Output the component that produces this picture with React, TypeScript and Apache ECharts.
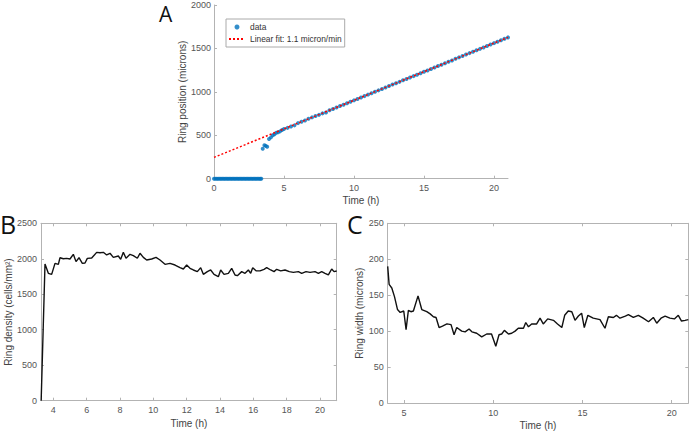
import React, { useEffect, useRef } from "react";
import * as echarts from "echarts";

// Panel A: ring position (data points) and linear fit
const aTime = [0, 0.1, 0.2, 0.3, 0.4, 0.5, 0.6, 0.7, 0.8, 0.9, 1.0, 1.1, 1.2, 1.3, 1.4, 1.5, 1.6, 1.7, 1.8, 1.9,
  2.0, 2.1, 2.2, 2.3, 2.4, 2.5, 2.6, 2.7, 2.8, 2.9, 3.0, 3.1, 3.2, 3.3, 3.38,
  3.48, 3.6, 3.7, 3.8, 3.93, 4.07, 4.2, 4.32, 4.45, 4.58, 4.72, 4.86,
  5.0, 5.25, 5.5, 5.75, 6.0, 6.25, 6.5, 6.75, 7.0, 7.25, 7.5, 7.75, 8.0, 8.25, 8.5, 8.75,
  9.0, 9.25, 9.5, 9.75, 10.0, 10.25, 10.5, 10.75, 11.0, 11.25, 11.5, 11.75, 12.0, 12.25, 12.5, 12.75,
  13.0, 13.25, 13.5, 13.75, 14.0, 14.25, 14.5, 14.75, 15.0, 15.25, 15.5, 15.75, 16.0, 16.25, 16.5, 16.75,
  17.0, 17.25, 17.5, 17.75, 18.0, 18.25, 18.5, 18.75, 19.0, 19.25, 19.5, 19.75, 20.0, 20.25, 20.5, 20.75, 21.0];
const aPosition = [0, 0, 0, 0, 0, 0, 0, 0, 0, 0, 0, 0, 0, 0, 0, 0, 0, 0, 0, 0,
  0, 0, 0, 0, 0, 0, 0, 0, 0, 0, 0, 0, 0, 0, 0,
  345, 385, 378, 368, 457, 476, 500, 512, 528, 536, 545, 560,
  572, 585, 600, 614, 640, 655, 670, 690, 706, 722, 735, 752, 762, 787, 803, 820,
  836, 852, 868, 886, 902, 918, 935, 951, 968, 985, 1000, 1017, 1034, 1050, 1068, 1084,
  1099, 1115, 1134, 1148, 1166, 1181, 1197, 1214, 1232, 1247, 1264, 1280, 1297, 1313, 1330, 1347,
  1362, 1380, 1397, 1413, 1430, 1446, 1462, 1479, 1495, 1511, 1527, 1545, 1561, 1577, 1594, 1611, 1627];
const fitTime = [0, 21];
const fitPosition = [245, 1627];

// Panel B: ring density
const bTime = [3.27, 3.5, 3.7, 3.9, 4.1, 4.3, 4.4, 4.6, 4.8, 5.0, 5.2, 5.36, 5.54, 5.74, 5.9, 6.04, 6.3, 6.6, 6.8, 7.0,
  7.2, 7.4, 7.6, 7.9, 8.04, 8.2, 8.36, 8.6, 8.8, 9.04, 9.2, 9.4, 9.6, 9.9, 10.16, 10.4, 10.7, 11.0, 11.3, 11.6,
  11.8, 12.0, 12.2, 12.4, 12.64, 12.84, 13.0, 13.24, 13.44, 13.64, 13.9, 14.04, 14.24, 14.5, 14.7, 14.9, 15.04, 15.3, 15.5, 15.7,
  15.84, 15.96, 16.16, 16.4, 16.64, 16.8, 17.04, 17.24, 17.4, 17.64, 17.9, 18.16, 18.4, 18.7, 18.9, 19.16, 19.4, 19.7, 19.9, 20.1,
  20.3, 20.5, 20.7, 20.84, 21.0];
const bDensity = [0, 1925, 1795, 1780, 1935, 1920, 2015, 2000, 2005, 1997, 2063, 1960, 2015, 1935, 1940, 2006, 2010, 2090, 2085, 2091,
  2054, 2077, 2020, 2039, 1992, 2091, 2007, 2063, 2045, 2007, 2077, 2020, 1983, 1997, 2020, 1983, 1922, 1936, 1912, 1875,
  1856, 1912, 1866, 1842, 1819, 1875, 1781, 1819, 1842, 1781, 1748, 1842, 1781, 1795, 1865, 1772, 1762, 1819, 1795, 1842,
  1795, 1875, 1830, 1830, 1852, 1875, 1842, 1819, 1852, 1830, 1842, 1819, 1809, 1819, 1795, 1819, 1809, 1819, 1795, 1819,
  1795, 1772, 1856, 1819, 1828];

// Panel C: ring width
const cTime = [4.08, 4.16, 4.31, 4.46, 4.63, 4.78, 4.98, 5.11, 5.24, 5.38, 5.52, 5.78, 5.99, 6.27, 6.46, 6.64, 6.79, 6.96, 7.15, 7.4,
  7.63, 7.8, 7.95, 8.23, 8.42, 8.64, 8.8, 9.07, 9.35, 9.63, 9.9, 10.14, 10.32, 10.47, 10.62, 10.85, 11.03, 11.22, 11.4, 11.69,
  11.82, 11.97, 12.15, 12.43, 12.62, 12.8, 13.05, 13.37, 13.6, 13.84, 14.0, 14.2, 14.4, 14.58, 14.77, 14.95, 15.1, 15.3, 15.6, 15.98,
  16.26, 16.45, 16.73, 16.9, 17.1, 17.4, 17.57, 17.85, 18.13, 18.4, 18.7, 18.97, 19.16, 19.4, 19.63, 19.9, 20.15, 20.37, 20.55, 20.75, 20.93];
const cWidth = [190, 165, 160, 148, 130, 126, 128, 102, 129, 127, 128, 149, 130, 127, 124, 120, 119, 105, 107, 110,
  109, 95, 105, 100, 99, 103, 99, 97, 92, 96, 96, 79, 95, 96, 101, 96, 97, 100, 104, 104,
  112, 106, 110, 110, 118, 110, 117, 115, 110, 105, 122, 128, 127, 115, 121, 125, 105, 122, 118, 116,
  104, 120, 119, 122, 118, 121, 123, 119, 122, 118, 113, 119, 111, 118, 121, 118, 117, 122, 114, 115, 116];

const bTicks = [4, 6, 8, 10, 12, 14, 16, 18, 20];
const cTicks = [5, 10, 15, 20];

const FONT = "'Liberation Sans', Arial, sans-serif";
const AXIS_COLOR = "#b3b3b3";
const LABEL_COLOR = "#555";
const NAME_COLOR = "#444";

const zip = (xs: number[], ys: number[]) => xs.map((x, i) => [x, ys[i]]);
const plain = (v: number) => String(v);

function baseAxis(extra: any) {
  return {
    type: "value",
    axisLine: { show: true, onZero: false, lineStyle: { color: AXIS_COLOR, width: 1 } },
    axisTick: { show: true, inside: true, length: 3, lineStyle: { color: AXIS_COLOR } },
    splitLine: { show: false },
    nameTextStyle: { color: NAME_COLOR, fontSize: 10, fontFamily: FONT },
    nameLocation: "middle",
    ...extra,
  };
}

function boxAxis(gridIndex: number, position: string, min: number, max: number, ticks: number[] | null, interval?: number) {
  const a: any = {
    type: "value",
    gridIndex,
    position,
    min,
    max,
    axisLine: { show: true, onZero: false, lineStyle: { color: AXIS_COLOR, width: 1 } },
    axisTick: { show: true, inside: true, length: 3, lineStyle: { color: AXIS_COLOR } },
    axisLabel: { show: false },
    splitLine: { show: false },
  };
  if (ticks) {
    a.axisTick.customValues = ticks;
  } else if (interval) {
    a.interval = interval;
  }
  return a;
}

export default function App() {
  const ref = useRef<HTMLDivElement>(null);
  useEffect(() => {
    if (!ref.current) return;
    const chart = echarts.init(ref.current, null, { renderer: "svg" });
    const label = (extra: any) => ({ color: LABEL_COLOR, fontSize: 9, fontFamily: FONT, formatter: plain, ...extra });
    const option: any = {
      animation: false,
      backgroundColor: "#ffffff",
      textStyle: { fontFamily: FONT },
      grid: [
        { left: 214, top: 5, width: 294, height: 173.7 },
        { left: 41, top: 223.3, width: 295.7, height: 177.4 },
        { left: 387.7, top: 223.3, width: 300.6, height: 180 },
      ],
      legend: {
        left: 226,
        top: 19,
        orient: "vertical",
        data: [
          { name: "data", icon: "circle", itemStyle: { color: "#0072BD" } },
          { name: "Linear fit: 1.1 micron/min", itemStyle: { opacity: 0 } },
        ],
        itemWidth: 16,
        itemHeight: 5,
        itemGap: 4,
        padding: [4, 3, 4, 2],
        borderColor: "#aaa",
        borderWidth: 1,
        textStyle: { color: "#333", fontSize: 8.4, fontFamily: FONT },
      },
      xAxis: [
        baseAxis({
          gridIndex: 0, min: 0, max: 21, interval: 5,
          axisLabel: label({ margin: 5, showMaxLabel: false }),
          name: "Time (h)", nameGap: 17,
        }),
        baseAxis({
          gridIndex: 1, min: 3.26, max: 21,
          axisTick: { show: true, inside: true, length: 3, lineStyle: { color: AXIS_COLOR }, customValues: bTicks },
          axisLabel: label({ margin: 5, customValues: bTicks }),
          name: "Time (h)", nameGap: 18,
        }),
        baseAxis({
          gridIndex: 2, min: 4.08, max: 20.93,
          axisTick: { show: true, inside: true, length: 3, lineStyle: { color: AXIS_COLOR }, customValues: cTicks },
          axisLabel: label({ margin: 5, customValues: cTicks }),
          name: "Time (h)", nameGap: 17,
        }),
        boxAxis(1, "top", 3.26, 21, bTicks),
        boxAxis(2, "top", 4.08, 20.93, cTicks),
      ],
      yAxis: [
        baseAxis({
          gridIndex: 0, min: 0, max: 2000, interval: 500,
          axisLabel: label({ margin: 3 }),
          name: "Ring position (microns)", nameGap: 17,
        }),
        baseAxis({
          gridIndex: 1, min: 0, max: 2500, interval: 500,
          axisLabel: label({ margin: 4 }),
          name: "Ring density (cells/mm²)", nameGap: 24,
        }),
        baseAxis({
          gridIndex: 2, min: 0, max: 250, interval: 50,
          axisLabel: label({ margin: 4 }),
          name: "Ring width (microns)", nameGap: 18,
        }),
        boxAxis(1, "right", 0, 2500, null, 500),
        boxAxis(2, "right", 0, 250, null, 50),
      ],
      series: [
        {
          name: "data",
          type: "scatter",
          xAxisIndex: 0,
          yAxisIndex: 0,
          data: zip(aTime, aPosition),
          symbol: "circle",
          symbolSize: 4,
          itemStyle: { color: "#0072BD" },
          z: 2,
        },
        {
          name: "Linear fit: 1.1 micron/min",
          type: "line",
          xAxisIndex: 0,
          yAxisIndex: 0,
          data: zip(fitTime, fitPosition),
          showSymbol: false,
          symbol: "none",
          lineStyle: { color: "#ff0000", width: 1.5, type: [2, 2] },
          itemStyle: { color: "#ff0000" },
          z: 3,
        },
        {
          name: "density",
          type: "line",
          xAxisIndex: 1,
          yAxisIndex: 1,
          data: zip(bTime, bDensity),
          showSymbol: false,
          symbol: "none",
          lineStyle: { color: "#111", width: 1.4 },
        },
        {
          name: "width",
          type: "line",
          xAxisIndex: 2,
          yAxisIndex: 2,
          data: zip(cTime, cWidth),
          showSymbol: false,
          symbol: "none",
          lineStyle: { color: "#111", width: 1.4 },
        },
      ],
      graphic: [
        { type: "text", left: 159, top: 3, style: { text: "A", fontSize: 21, fontFamily: "'Open Sans', sans-serif", fill: "#111" } },
        { type: "text", left: 0, top: 211, style: { text: "B", fontSize: 25, fontFamily: "'Open Sans', sans-serif", fill: "#111" } },
        { type: "text", left: 347, top: 211, style: { text: "C", fontSize: 25, fontFamily: "'Open Sans', sans-serif", fill: "#111" } },
      ],
    };
    chart.setOption(option);
    return () => chart.dispose();
  }, []);
  return (
    <div
      ref={ref}
      style={{ position: "fixed", left: 0, top: 0, width: 689, height: 431, background: "#fff" }}
    />
  );
}
